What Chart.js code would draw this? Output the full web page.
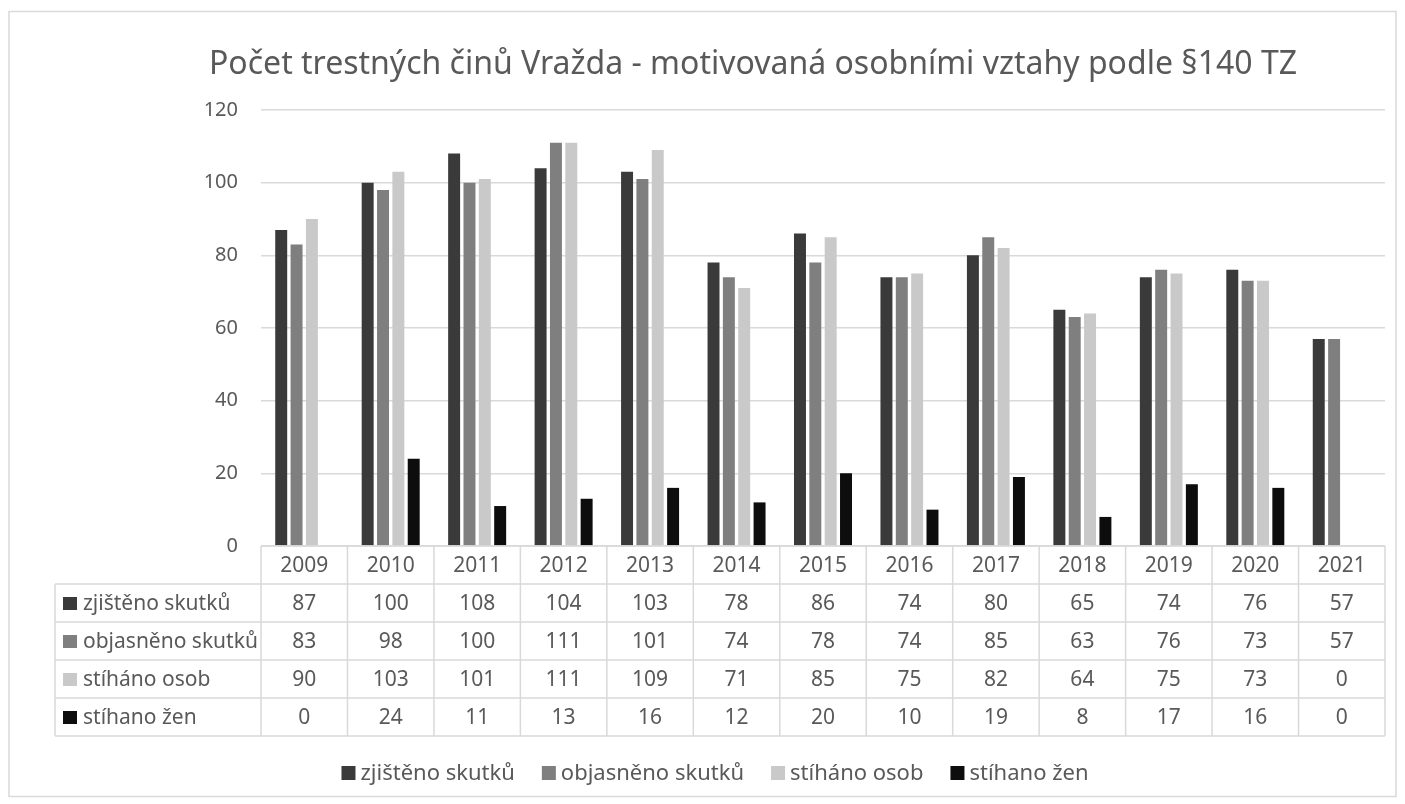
<!DOCTYPE html>
<html lang="cs">
<head>
    <meta charset="UTF-8">
    <title>Počet trestných činů Vražda</title>
    <script src="https://cdn.jsdelivr.net/npm/chart.js"></script>
    <style>
        body { margin: 0; background: #fff; }
        canvas { display: block; }
    </style>
</head>
<body>
    <canvas id="crimeChart" width="1405" height="804"></canvas>

    <script>
        const years = ['2009', '2010', '2011', '2012', '2013', '2014', '2015', '2016', '2017', '2018', '2019', '2020', '2021'];
        const zjisteno = [87, 100, 108, 104, 103, 78, 86, 74, 80, 65, 74, 76, 57];
        const objasneno = [83, 98, 100, 111, 101, 74, 78, 74, 85, 63, 76, 73, 57];
        const stihanoOsob = [90, 103, 101, 111, 109, 71, 85, 75, 82, 64, 75, 73, 0];
        const stihanoZen = [0, 24, 11, 13, 16, 12, 20, 10, 19, 8, 17, 16, 0];
        const seriesNames = ['zjištěno skutků', 'objasněno skutků', 'stíháno osob', 'stíhano žen'];
        const seriesColors = ['#3a3a3a', '#7f7f7f', '#c9c9c9', '#0d0d0d'];
        const yTicks = [0, 20, 40, 60, 80, 100, 120];

        const titleText = 'Počet trestných činů Vražda - motivovaná osobními vztahy podle §140 TZ';
        const textColor = '#595959';
        const lineColor = '#d9d9d9';
        const fontFamily = '"Noto Sans", "Open Sans", sans-serif';

        // title, data table under the plot, legend and the outer frame
        const extrasPlugin = {
            id: 'extras',
            afterDraw(chart) {
                const c = chart.ctx;
                const area = chart.chartArea;
                const xs = chart.scales.x;
                const colW = (area.right - area.left) / years.length;
                const rowH = 38;
                const top = area.bottom;
                const tableLeft = 55;
                const rows = [zjisteno, objasneno, stihanoOsob, stihanoZen];
                const bottom = top + (rows.length + 1) * rowH;

                c.save();
                // outer frame
                c.strokeStyle = lineColor;
                c.lineWidth = 1.5;
                c.strokeRect(9, 11.5, 1387, 785);

                // title
                c.fillStyle = textColor;
                c.font = '32px ' + fontFamily;
                c.textAlign = 'center';
                c.textBaseline = 'alphabetic';
                c.fillText(titleText, 753, 74);

                // table grid
                c.strokeStyle = lineColor;
                c.lineWidth = 1.5;
                c.beginPath();
                c.moveTo(area.left, top);
                c.lineTo(area.right, top);
                for (let r = 1; r <= rows.length + 1; r++) {
                    c.moveTo(tableLeft, top + r * rowH);
                    c.lineTo(area.right, top + r * rowH);
                }
                for (let i = 0; i < years.length; i++) {
                    const x = xs.getPixelForValue(i) - colW / 2;
                    c.moveTo(x, top);
                    c.lineTo(x, bottom);
                }
                const lastX = xs.getPixelForValue(years.length - 1) + colW / 2;
                c.moveTo(lastX, top);
                c.lineTo(lastX, bottom);
                c.moveTo(tableLeft, top + rowH);
                c.lineTo(tableLeft, bottom);
                c.stroke();

                // table texts
                c.font = '21px ' + fontFamily;
                c.fillStyle = textColor;
                c.textBaseline = 'middle';
                c.textAlign = 'center';
                years.forEach((y, i) => {
                    c.fillText(y, xs.getPixelForValue(i), top + rowH / 2 + 1);
                });
                rows.forEach((vals, r) => {
                    const cy = top + (r + 1) * rowH + rowH / 2 + 1;
                    c.textAlign = 'center';
                    c.fillStyle = textColor;
                    vals.forEach((v, i) => c.fillText(String(v), xs.getPixelForValue(i), cy));
                    c.fillStyle = seriesColors[r];
                    c.fillRect(63, cy - 7, 14, 13);
                    c.fillStyle = textColor;
                    c.textAlign = 'left';
                    c.fillText(seriesNames[r], 83, cy);
                });

                // legend
                c.font = '22px ' + fontFamily;
                const box = 14, gapText = 5, gapItem = 27;
                const widths = seriesNames.map(n => box + gapText + c.measureText(n).width);
                const total = widths.reduce((a, b) => a + b, 0) + gapItem * (widths.length - 1);
                let lx = 715 - total / 2;
                const ly = 773;
                c.textAlign = 'left';
                seriesNames.forEach((n, i) => {
                    c.fillStyle = seriesColors[i];
                    c.fillRect(lx, ly - 7, box, 14);
                    c.fillStyle = textColor;
                    c.fillText(n, lx + box + gapText, ly + 1);
                    lx += widths[i] + gapItem;
                });
                c.restore();
            }
        };

        const ctx = document.getElementById('crimeChart').getContext('2d');
        const allSeries = [zjisteno, objasneno, stihanoOsob, stihanoZen];

        const crimeChart = new Chart(ctx, {
            type: 'bar',
            data: {
                labels: years,
                datasets: allSeries.map((vals, i) => ({
                    label: seriesNames[i],
                    data: vals,
                    backgroundColor: seriesColors[i],
                    borderWidth: 0,
                    categoryPercentage: 0.71,
                    barPercentage: 0.78
                }))
            },
            options: {
                responsive: false,
                animation: false,
                devicePixelRatio: 1,
                layout: {
                    padding: { top: 110, bottom: 258, left: 0, right: 20 }
                },
                plugins: {
                    legend: { display: false },
                    title: { display: false },
                    tooltip: { enabled: false }
                },
                scales: {
                    x: {
                        display: false
                    },
                    y: {
                        min: 0,
                        max: 120,
                        afterBuildTicks: (scale) => { scale.ticks = yTicks.map(v => ({ value: v })); },
                        afterFit: (scale) => { scale.width = 261; },
                        border: { display: false },
                        grid: { color: lineColor, lineWidth: 1.5, drawTicks: false },
                        ticks: {
                            padding: 23,
                            color: textColor,
                            font: { size: 20, family: fontFamily }
                        }
                    }
                }
            },
            plugins: [extrasPlugin]
        });
    </script>
</body>
</html>
